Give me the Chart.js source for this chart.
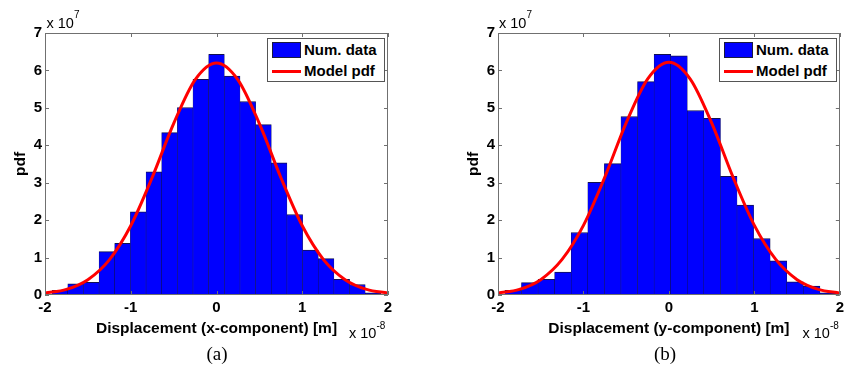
<!DOCTYPE html>
<html>
<head>
<meta charset="utf-8">
<script src="https://cdn.jsdelivr.net/npm/chart.js@4.4.0/dist/chart.umd.min.js"></script>
<style>
    html, body { margin: 0; padding: 0; background: #fff; }
    body { width: 848px; height: 378px; position: relative; overflow: hidden; font-family: "Liberation Sans", Arial, sans-serif; }
    .panel { position: absolute; top: 0; width: 424px; height: 378px; }
    .panel canvas { position: absolute; left: 0; top: 0; }
    .legend { position: absolute; top: 37.5px; width: 118px; height: 44px; border: 1px solid #555; background: #fff; box-sizing: border-box; font-size: 15px; font-weight: bold; color: #000; }
    .legend .patch { position: absolute; left: 4px; top: 3px; width: 29px; height: 16px; background: #0000ff; border: 1px solid #1a1a40; box-sizing: border-box; }
    .legend .stroke { position: absolute; left: 4px; top: 31px; width: 29px; height: 3px; background: #ff0000; }
    .legend .lbl { position: absolute; left: 36px; line-height: 16px; white-space: nowrap; }
    .exp { position: absolute; font-size: 14.5px; line-height: 14px; color: #000; white-space: nowrap; }
    .exp span { font-size: 10px; position: relative; }
    .caption { position: absolute; top: 343px; width: 60px; text-align: center; font-family: "Liberation Serif", "Times New Roman", serif; font-size: 19px; line-height: 22px; color: #000; }
</style>
</head>
<body>
<div class="panel" style="left:0">
    <canvas id="histX" width="424" height="378"></canvas>
    <div class="legend" style="left:267px">
        <div class="patch"></div><div class="lbl" style="top:3px">Num. data</div>
        <div class="stroke"></div><div class="lbl" style="top:24px">Model pdf</div>
    </div>
    <div class="exp" style="left:46.5px; top:16px">x 10<span style="top:-10px">7</span></div>
    <div class="exp" style="left:349px; top:326px">x 10<span style="top:-9px">-8</span></div>
    <div class="caption" style="left:187px">(a)</div>
</div>
<div class="panel" style="left:424px">
    <canvas id="histY" width="424" height="378"></canvas>
    <div class="legend" style="left:295px">
        <div class="patch"></div><div class="lbl" style="top:3px">Num. data</div>
        <div class="stroke"></div><div class="lbl" style="top:24px">Model pdf</div>
    </div>
    <div class="exp" style="left:75px; top:16px">x 10<span style="top:-10px">7</span></div>
    <div class="exp" style="left:378.5px; top:326px">x 10<span style="top:-9px">-8</span></div>
    <div class="caption" style="left:211px">(b)</div>
</div>
<script>
// displacement in units of 1e-8 m, pdf in units of 1e7
const xBinCenters = [-1.826, -1.643, -1.461, -1.278, -1.096, -0.913, -0.730, -0.548, -0.365, -0.183, 0,
    0.183, 0.365, 0.548, 0.730, 0.913, 1.096, 1.278, 1.461, 1.643, 1.826];
const xBinHeights = [0.125, 0.30, 0.34, 1.16, 1.38, 2.22, 3.29, 4.34, 5.01, 5.76, 6.43,
    5.85, 5.17, 4.55, 3.53, 2.15, 1.20, 0.97, 0.42, 0.28, 0.06];

const yBinCenters = [-1.822, -1.628, -1.434, -1.240, -1.046, -0.852, -0.658, -0.464, -0.270, -0.076,
    0.118, 0.312, 0.506, 0.700, 0.894, 1.088, 1.282, 1.476, 1.670, 1.864];
const yBinHeights = [0.125, 0.33, 0.42, 0.61, 1.67, 3.01, 3.51, 4.77, 5.70, 6.43,
    6.39, 4.93, 4.72, 3.17, 2.40, 1.51, 0.91, 0.35, 0.24, 0.06];

// model pdf sampled along the axis
const modelX = [-2, -1.75, -1.5, -1.25, -1, -0.75, -0.5, -0.25, 0, 0.25, 0.5, 0.75, 1, 1.25, 1.5, 1.75, 2];
const modelXComp = [0.05, 0.15, 0.41, 0.94, 1.85, 3.14, 4.58, 5.75, 6.2, 5.75, 4.58, 3.14, 1.85, 0.94, 0.41, 0.15, 0.05];
const modelYComp = [0.05, 0.15, 0.41, 0.95, 1.86, 3.15, 4.60, 5.77, 6.22, 5.77, 4.60, 3.15, 1.86, 0.95, 0.41, 0.15, 0.05];

const xTicks = [-2, -1, 0, 1, 2];
const yTicks = [0, 1, 2, 3, 4, 5, 6, 7];

const tickFont = { family: "'Liberation Sans', Arial, sans-serif", size: 15, weight: 'bold' };
const titleFont = { family: "'Liberation Sans', Arial, sans-serif", size: 15.5, weight: 'bold' };

// box around the axes with short inward ticks on all four sides
const axesBox = {
    id: 'axesBox',
    afterDraw(chart) {
        const { ctx, chartArea: a, scales: { x, y } } = chart;
        const t = 4;
        ctx.save();
        ctx.strokeStyle = '#707070';
        ctx.lineWidth = 1;
        ctx.beginPath();
        ctx.rect(Math.round(a.left) + 0.5, Math.round(a.top) + 0.5,
            Math.round(a.right - a.left) - 1, Math.round(a.bottom - a.top) - 1);
        xTicks.forEach((v) => {
            const px = Math.round(x.getPixelForValue(v)) + 0.5;
            ctx.moveTo(px, a.bottom);
            ctx.lineTo(px, a.bottom - t);
            ctx.moveTo(px, a.top);
            ctx.lineTo(px, a.top + t);
        });
        yTicks.forEach((v) => {
            const py = Math.round(y.getPixelForValue(v)) + 0.5;
            ctx.moveTo(a.left, py);
            ctx.lineTo(a.left + t, py);
            ctx.moveTo(a.right, py);
            ctx.lineTo(a.right - t, py);
        });
        ctx.stroke();
        ctx.restore();
    }
};

const buildChart = (canvasId, centers, heights, model, xTitle, padLeft, padRight) => {
    return new Chart(document.getElementById(canvasId), {
        data: {
            datasets: [{
                type: 'line',
                label: 'Model pdf',
                data: modelX.map((v, i) => ({ x: v, y: model[i] })),
                borderColor: '#ff0000',
                borderWidth: 3,
                pointRadius: 0,
                cubicInterpolationMode: 'monotone',
                order: 0
            }, {
                type: 'bar',
                label: 'Num. data',
                data: centers.map((v, i) => ({ x: v, y: heights[i] })),
                backgroundColor: '#0000ff',
                borderColor: '#101050',
                borderWidth: { top: 1, left: 0.5, right: 0.5, bottom: 0 },
                borderSkipped: false,
                barPercentage: 1,
                categoryPercentage: 1,
                order: 1
            }]
        },
        options: {
            responsive: false,
            animation: false,
            events: [],
            layout: { padding: { left: padLeft, right: padRight, top: 33, bottom: 0 } },
            plugins: { legend: { display: false }, tooltip: { enabled: false } },
            scales: {
                x: {
                    type: 'linear',
                    min: -2,
                    max: 2,
                    offset: false,
                    afterBuildTicks: (s) => { s.ticks = xTicks.map((v) => ({ value: v })); },
                    ticks: { font: tickFont, color: '#000', padding: 4, maxRotation: 0, autoSkip: false },
                    grid: { display: false, drawTicks: false },
                    border: { display: false },
                    title: { display: true, text: xTitle, font: titleFont, color: '#000', padding: { top: 0, bottom: 39.7 } },
                    afterFit: (s) => { s.height = 83; }
                },
                y: {
                    type: 'linear',
                    min: 0,
                    max: 7,
                    afterBuildTicks: (s) => { s.ticks = yTicks.map((v) => ({ value: v })); },
                    ticks: { font: tickFont, color: '#000', padding: 3, autoSkip: false },
                    grid: { display: false, drawTicks: false },
                    border: { display: false },
                    title: { display: true, text: 'pdf', font: titleFont, color: '#000', padding: { top: 11.7, bottom: 0 } },
                    afterFit: (s) => { s.width = 45; }
                }
            }
        },
        plugins: [axesBox]
    });
};

buildChart('histX', xBinCenters, xBinHeights, modelXComp, 'Displacement (x-component) [m]', 0, 36);
buildChart('histY', yBinCenters, yBinHeights, modelYComp, 'Displacement (y-component) [m]', 29, 6.3);
</script>
</body>
</html>
